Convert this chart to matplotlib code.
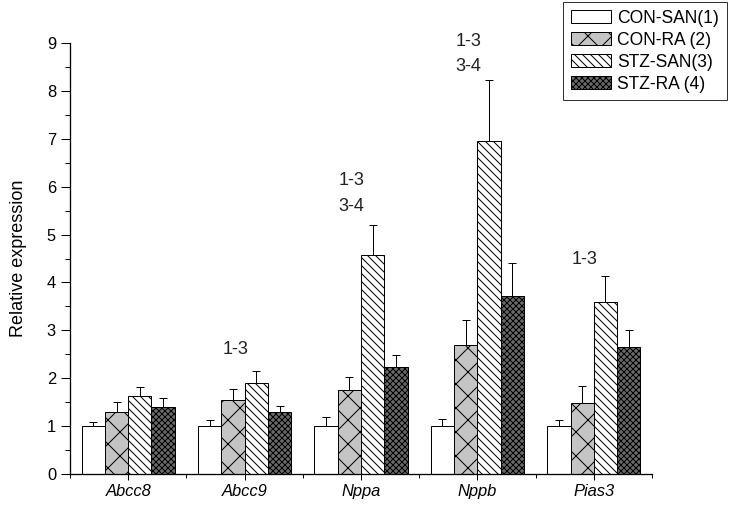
import numpy as np
import matplotlib
matplotlib.use("Agg")
import matplotlib.pyplot as plt
from matplotlib.ticker import MultipleLocator, FixedLocator

# dpi 72 so that 1 pt = 1 px (also makes hatch spacing match the original)
plt.rcParams['font.family'] = ['Liberation Sans', 'DejaVu Sans']
plt.rcParams['hatch.linewidth'] = 1.0

genes = ["Abcc8", "Abcc9", "Nppa", "Nppb", "Pias3"]
groups = ["CON-SAN(1)", "CON-RA (2)", "STZ-SAN(3)", "STZ-RA (4)"]

con_san = [1.00, 1.00, 1.00, 1.00, 1.00]
con_ra = [1.29, 1.54, 1.75, 2.70, 1.49]
stz_san = [1.62, 1.89, 4.57, 6.96, 3.60]
stz_ra = [1.39, 1.29, 2.23, 3.71, 2.66]

con_san_err = [0.09, 0.13, 0.18, 0.14, 0.13]
con_ra_err = [0.22, 0.24, 0.27, 0.52, 0.35]
stz_san_err = [0.19, 0.27, 0.62, 1.26, 0.54]
stz_ra_err = [0.20, 0.14, 0.25, 0.70, 0.35]

# significance labels: gene index -> text lines and their heights
sig_labels = {1: ["1-3"], 2: ["1-3", "3-4"], 3: ["1-3", "3-4"], 4: ["1-3"]}
sig_y = {1: [2.61], 2: [6.13, 5.59], 3: [9.03, 8.50], 4: [4.48]}

values = [con_san, con_ra, stz_san, stz_ra]
errors = [con_san_err, con_ra_err, stz_san_err, stz_ra_err]
faces = ["white", "#c4c4c4", "white", "#6a6a6a"]
hatches = [None, "x", "\\\\\\", "xxxx"]

fig = plt.figure(figsize=(729 / 72, 505 / 72), dpi=72)
ax = fig.add_axes([70 / 729, 1 - 474 / 505, 582 / 729, 431 / 505])

x = np.arange(1, len(genes) + 1)
width = 0.2
offsets = [-0.3, -0.1, 0.1, 0.3]

for vals, errs, fc, h, off, lab in zip(values, errors, faces, hatches, offsets, groups):
    ax.bar(x + off, vals, width, color=fc, edgecolor="black", hatch=h,
           linewidth=1.0, label=lab, zorder=2)
    ax.errorbar(x + off, vals, yerr=[np.zeros(len(errs)), errs], fmt="none",
                ecolor="black", elinewidth=1.0, capsize=4, capthick=1.0,
                zorder=3, clip_on=False)

for i, lines in sig_labels.items():
    for txt, yy in zip(lines, sig_y[i]):
        ax.text(x[i] - 0.08, yy, txt, ha="center", va="center",
                fontsize=18, color="#222222", clip_on=False)

ax.set_xlim(0.5, 5.5)
ax.set_ylim(0, 9)
ax.set_xticks(x)
ax.set_xticklabels(genes, fontstyle="italic", fontsize=16.5)
ax.xaxis.set_minor_locator(FixedLocator(np.arange(0.5, 6, 1.0)))
ax.yaxis.set_major_locator(MultipleLocator(1))
ax.yaxis.set_minor_locator(MultipleLocator(0.5))
ax.tick_params(axis="y", which="major", direction="out", length=9, width=1, labelsize=16.5, pad=5)
ax.tick_params(axis="y", which="minor", direction="out", length=5, width=1)
ax.tick_params(axis="x", which="major", direction="out", length=6, width=1, labelsize=16.5, pad=4)
ax.tick_params(axis="x", which="minor", direction="out", length=4, width=1)
ax.spines["top"].set_visible(False)
ax.spines["right"].set_visible(False)
ax.spines["left"].set_linewidth(1.3)
ax.spines["bottom"].set_linewidth(1.3)
ax.set_ylabel("Relative expression", fontsize=18, labelpad=20)

leg = fig.legend(loc="upper right", bbox_to_anchor=(727 / 729, 1 - 2 / 505), fontsize=17.5,
                 frameon=True, fancybox=False, edgecolor="black",
                 handlelength=2.3, handleheight=0.75, handletextpad=0.35,
                 labelspacing=0.28, borderpad=0.45, borderaxespad=0)
leg.get_frame().set_linewidth(1.0)

fig.savefig("out.png", dpi=72)
